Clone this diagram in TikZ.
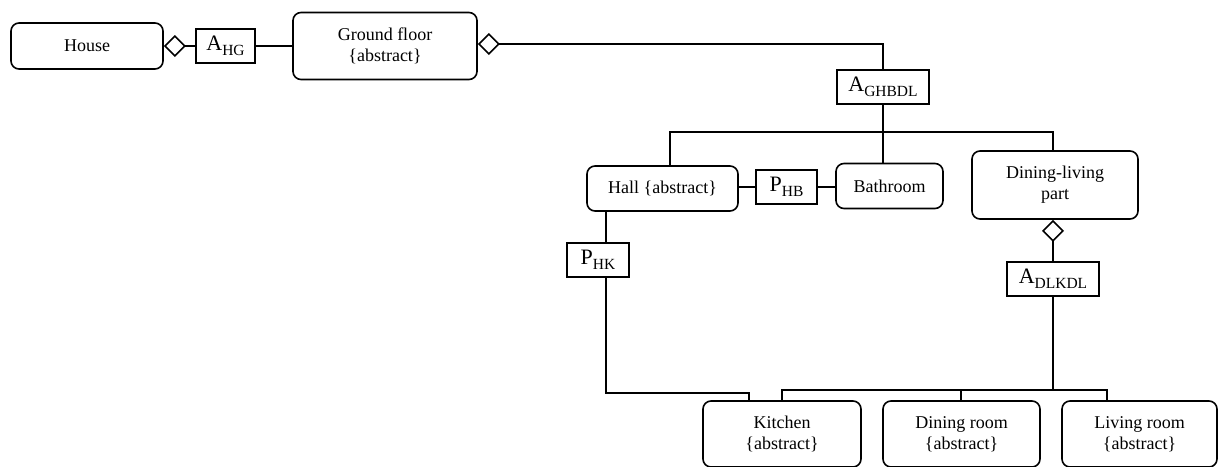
\documentclass[tikz,border=0pt]{standalone}
\usepackage{fontspec}
\setmainfont{Liberation Serif}
\usetikzlibrary{arrows.meta}
\newcommand\rellab[2]{{\fontsize{22}{24}\selectfont #1}\raisebox{-5pt}{\fontsize{15.5}{16}\selectfont #2}}
\begin{document}
\begin{tikzpicture}[x=1pt,y=-1pt,line width=1.6pt,
  cls/.style={draw,rounded corners=8pt,align=center,inner sep=0pt,
    font=\fontsize{18}{21}\selectfont},
  rel/.style={draw,inner sep=0pt,minimum height=34pt},
  agg/.style={{Diamond[open,length=22pt,width=22pt]}-}]
\useasboundingbox (0,0) rectangle (1218,466);
% classes
\node[cls,minimum width=152pt,minimum height=46pt] (house) at (87,46) {House};
\node[cls,minimum width=184pt,minimum height=67pt] (ground) at (385,46) {Ground floor\\\{abstract\}};
\node[cls,minimum width=151pt,minimum height=45pt] (hall) at (662.5,188.5) {Hall \{abstract\}};
\node[cls,minimum width=107pt,minimum height=45pt] (bath) at (889.5,186) {Bathroom};
\node[cls,minimum width=166pt,minimum height=68pt] (dl) at (1055,185) {Dining-living\\part};
\node[cls,minimum width=158pt,minimum height=66pt] (kitchen) at (782,434) {Kitchen\\\{abstract\}};
\node[cls,minimum width=157pt,minimum height=66pt] (dining) at (961.5,434) {Dining room\\\{abstract\}};
\node[cls,minimum width=155pt,minimum height=66pt] (living) at (1139.5,434) {Living room\\\{abstract\}};
% relation boxes
\node[rel,minimum width=59pt] (ahg) at (225.5,46) {\rellab{A}{HG}};
\node[rel,minimum width=92pt] (aghbdl) at (883,87) {\rellab{A}{GHBDL}};
\node[rel,minimum width=61pt] (phb) at (786.5,187) {\rellab{P}{HB}};
\node[rel,minimum width=62pt] (phk) at (598,260) {\rellab{P}{HK}};
\node[rel,minimum width=92pt] (adlkdl) at (1053,279) {\rellab{A}{DLKDL}};
% helper coordinates
\coordinate (gturn) at (883,44);
\coordinate (busL) at (670,132);
\coordinate (busR) at (1053,132);
\coordinate (hallS) at (606,211);
\coordinate (hkA) at (606,393);
\coordinate (hkB) at (749,393);
\coordinate (bus2L) at (782,390);
\coordinate (bus2M) at (961,390);
\coordinate (bus2C) at (1053,390);
\coordinate (bus2R) at (1107,390);
% connectors
\draw[agg] (house.east) -- (ahg.west);
\draw (ahg.east) -- (ground.west);
\draw[agg] (ground.east |- gturn) -- (gturn) -- (aghbdl.north);
\draw (aghbdl.south) -- (aghbdl.south |- bath.north);
\draw (busL |- hall.north) -- (busL) -- (busR) -- (busR |- dl.north);
\draw (hall.east |- phb.west) -- (phb.west);
\draw (phb.east) -- (bath.west |- phb.east);
\draw (hallS) -- (hallS |- phk.north);
\draw (hallS |- phk.south) -- (hkA) -- (hkB) -- (hkB |- kitchen.north);
\draw[agg] (dl.south -| busR) -- (adlkdl.north);
\draw (adlkdl.south) -- (bus2C);
\draw (bus2L |- kitchen.north) -- (bus2L) -- (bus2R) -- (bus2R |- living.north);
\draw (bus2M) -- (bus2M |- dining.north);
\end{tikzpicture}
\end{document}
